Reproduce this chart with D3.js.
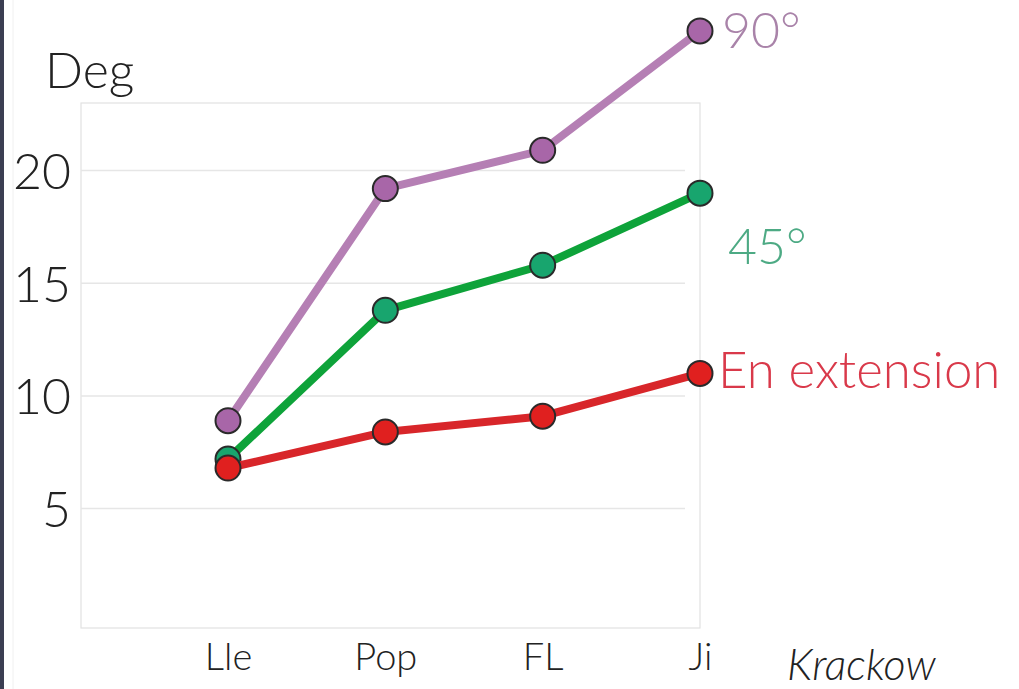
<!DOCTYPE html>
<html><head><meta charset="utf-8">
<script src="https://cdn.jsdelivr.net/npm/d3@7"></script>
<style>
html,body{margin:0;padding:0;background:#fff;}
svg{display:block;font-family:Lato,"Open Sans",sans-serif;font-weight:300;}
</style></head>
<body>
<script>
const categories = ["Lle", "Pop", "FL", "Ji"];
const seriesNames = ["90°", "45°", "En extension"];
const values90 = [8.9, 19.2, 20.9, 26.2];
const values45 = [7.2, 13.8, 15.8, 19.0];
const valuesExt = [6.8, 8.4, 9.1, 11.0];
const yTicks = [5, 10, 15, 20];
const yLabel = "Deg";
const xLabel = "Krackow";

const W = 1019, H = 689;
const svg = d3.select("body").append("svg").attr("width", W).attr("height", H);

// left dark frame
svg.append("rect").attr("x",0).attr("y",0).attr("width",4).attr("height",H).attr("fill","#3b3e52");
svg.append("line").attr("x1",13).attr("x2",13).attr("y1",0).attr("y2",H).attr("stroke","#f0f0f0").attr("stroke-width",1);

const box = {left:81, right:700, top:103, bottom:628};
const x = d3.scalePoint().domain(categories).range([228, 700]);
const y = d3.scaleLinear().domain([-0.3, 23]).range([box.bottom, box.top]);

// plot box
svg.append("rect").attr("x",box.left).attr("y",box.top)
  .attr("width",box.right-box.left).attr("height",box.bottom-box.top)
  .attr("fill","none").attr("stroke","#e2e2e2").attr("stroke-width",1.2);

// grid
svg.append("g").selectAll("line").data(yTicks).join("line")
  .attr("x1",box.left).attr("x2",685)
  .attr("y1",d=>y(d)).attr("y2",d=>y(d))
  .attr("stroke","#e6e6e6").attr("stroke-width",1.5);

// y axis labels
const yAxis = d3.axisLeft(y).tickValues(yTicks).tickSize(0).tickPadding(0);
const gy = svg.append("g").attr("transform",`translate(${box.left-10},0)`).call(yAxis);
gy.select(".domain").remove();
gy.selectAll("text").attr("font-size",50).attr("fill","#222").attr("font-family","Lato,sans-serif").attr("font-weight",300).attr("dy","0.36em");

svg.append("text").attr("x",45).attr("y",88).attr("font-size",50).attr("fill","#222").text(yLabel);

// x axis labels
const xAxis = d3.axisBottom(x).tickSize(0).tickPadding(0);
const gx = svg.append("g").attr("transform",`translate(0,643)`).call(xAxis);
gx.select(".domain").remove();
gx.selectAll("text").attr("font-size",38).attr("fill","#222").attr("font-family","Lato,sans-serif").attr("font-weight",300).attr("dy","0.71em");

svg.append("text").attr("x",787).attr("y",680).attr("font-size",43).attr("font-style","italic").attr("fill","#222").text(xLabel);

const series = [
  {name: seriesNames[0], vals: values90, line:"#b57fb4", fill:"#a866a8", label:"#a983a9", lx:722, ly:48, fs:50},
  {name: seriesNames[1], vals: values45, line:"#0ea33a", fill:"#18a56e", label:"#4daa84", lx:728, ly:264, fs:50},
  {name: seriesNames[2], vals: valuesExt, line:"#d8262a", fill:"#e0201f", label:"#d9394a", lx:718, ly:388, fs:51}
];

const line = d3.line().x((d,i)=>x(categories[i])).y(d=>y(d));

series.forEach(s=>{
  const g = svg.append("g");
  g.append("path").datum(s.vals).attr("d",line).attr("fill","none")
    .attr("stroke",s.line).attr("stroke-width",8).attr("stroke-linejoin","round");
  g.selectAll("circle").data(s.vals).join("circle")
    .attr("cx",(d,i)=>x(categories[i])).attr("cy",d=>y(d)).attr("r",12.5)
    .attr("fill",s.fill).attr("stroke","#2a2a2a").attr("stroke-width",2);
  svg.append("text").attr("x",s.lx).attr("y",s.ly).attr("font-size",s.fs)
    .attr("fill",s.label).text(s.name);
});
</script>
</body></html>
